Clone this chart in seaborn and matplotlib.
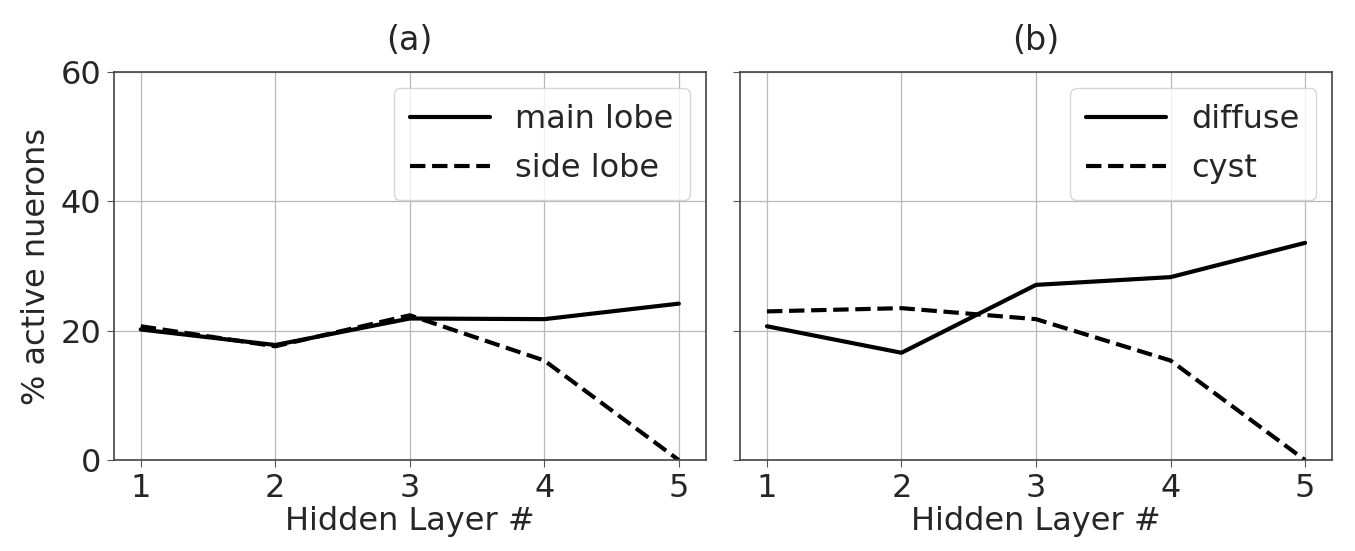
import matplotlib
matplotlib.use("Agg")
import matplotlib.pyplot as plt
import seaborn as sns
import pandas as pd

layers = [1, 2, 3, 4, 5]

main_lobe = [20.2, 17.8, 21.9, 21.8, 24.2]
side_lobe = [20.7, 17.6, 22.4, 15.4, 0.0]

diffuse = [20.7, 16.6, 27.1, 28.3, 33.6]
cyst = [23.0, 23.5, 21.8, 15.4, 0.0]

panel_titles = ["(a)", "(b)"]
y_ticks = [0, 20, 40, 60]

sns.set_style("ticks")
plt.rcParams["font.family"] = ["DejaVu Sans"]

FS = 23

def long_table(series):
    rows = []
    for name, vals in series.items():
        for x, v in zip(layers, vals):
            rows.append({"layer": x, "value": v, "series": name})
    return pd.DataFrame(rows)

fig, axes = plt.subplots(1, 2, figsize=(13.55, 5.51), dpi=100, sharey=True)
fig.subplots_adjust(left=0.084, right=0.983, bottom=0.165, top=0.869, wspace=0.058)

panels = [
    {"main lobe": main_lobe, "side lobe": side_lobe},
    {"diffuse": diffuse, "cyst": cyst},
]

for ax, series, title in zip(axes, panels, panel_titles):
    df = long_table(series)
    names = list(series.keys())
    sns.lineplot(
        data=df, x="layer", y="value", style="series", style_order=names,
        dashes={names[0]: "", names[1]: (3.7, 1.6)},
        color="black", linewidth=3, ax=ax,
    )
    ax.set_ylim(0, 60)
    ax.set_yticks(y_ticks)
    ax.set_xticks(layers)
    ax.set_xlim(0.8, 5.2)
    ax.grid(True, color="#b8b8b8", linewidth=0.9)
    ax.set_xlabel("Hidden Layer #", fontsize=FS, labelpad=2)
    ax.set_title(title, fontsize=FS + 1, pad=16)
    ax.tick_params(labelsize=FS, length=5, color="#555555", pad=4)
    for s in ax.spines.values():
        s.set_visible(True)
        s.set_color("#444444")
        s.set_linewidth(1.2)
    leg = ax.legend(loc="upper right", fontsize=FS, frameon=True, title=None,
                    handlelength=2.5, handletextpad=0.8, borderpad=0.5,
                    labelspacing=0.55, borderaxespad=0.5)
    leg.get_frame().set_edgecolor("#cccccc")
    for h in leg.get_lines():
        h.set_linewidth(3)

axes[0].set_ylabel("% active nuerons", fontsize=FS, labelpad=6)
axes[1].set_ylabel("")

fig.savefig("out.png", dpi=100)
